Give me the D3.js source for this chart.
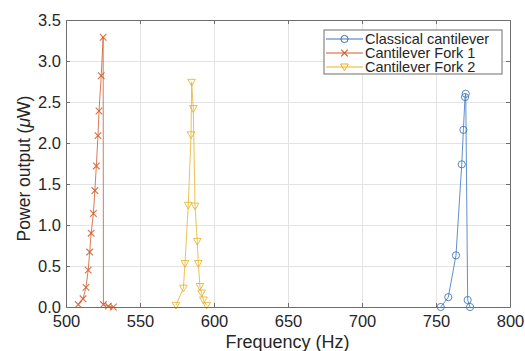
<!DOCTYPE html>
<html>
<head>
<meta charset="utf-8">
<script src="https://cdn.jsdelivr.net/npm/d3@7"></script>
<style>
  body { margin: 0; background: #fff; }
  svg { font-family: "Liberation Sans", Arial, sans-serif; }
  .grid line { stroke: #e3e3e3; }
  .grid path { display: none; }
  .tick text { fill: #262626; }
</style>
</head>
<body>
<svg class="plot"></svg>
<script>
// frequency (Hz) / power output (uW)
const classicalFreq  = [753.2, 758.3, 763.5, 767.4, 768.5, 769.6, 770.1, 771.4, 773.0]
const classicalPower = [0.00, 0.12, 0.63, 1.74, 2.16, 2.56, 2.60, 0.085, 0.00]

const fork1Freq  = [508.3, 511.5, 513.5, 515.0, 516.0, 517.0, 518.5, 519.5, 520.5, 521.6, 522.3, 523.8, 525.1, 525.3, 528.6, 532.0]
const fork1Power = [0.03, 0.10, 0.24, 0.45, 0.67, 0.90, 1.14, 1.42, 1.72, 2.09, 2.39, 2.82, 3.29, 0.03, 0.01, 0.00]

const fork2Freq  = [574.3, 579.3, 580.4, 582.6, 584.5, 584.9, 586.0, 587.2, 588.7, 589.4, 590.5, 591.6, 592.8, 595.0]
const fork2Power = [0.02, 0.23, 0.53, 1.24, 2.10, 2.74, 2.42, 1.23, 0.80, 0.53, 0.25, 0.17, 0.085, 0.02]

const seriesNames = ['Classical cantilever', 'Cantilever Fork 1', 'Cantilever Fork 2']
const xTicks = [500, 550, 600, 650, 700, 750, 800]
const yTicks = [0, 0.5, 1, 1.5, 2, 2.5, 3, 3.5]

const dimen = { width: 444, height: 287 }
const margin = { left: 66, top: 20 }

const xScale = d3.scaleLinear().domain([500, 800]).range([0, dimen.width])
const yScale = d3.scaleLinear().domain([0, 3.5]).range([dimen.height, 0])

const svg = d3.select('.plot')
    .attr('width', 525)
    .attr('height', 351)

const canvas = svg.append('g')
    .attr('transform', `translate(${margin.left}, ${margin.top})`)

// grid
const grid = canvas.append('g').attr('class', 'grid')
grid.append('g')
    .attr('transform', `translate(0, ${dimen.height})`)
    .call(d3.axisBottom(xScale).tickValues(xTicks).tickSize(-dimen.height).tickFormat(''))
grid.append('g')
    .call(d3.axisLeft(yScale).tickValues(yTicks).tickSize(-dimen.width).tickFormat(''))

// data
const series = [
  { name: seriesNames[0], color: '#3a74bb', marker: 'circle',
    data: classicalFreq.map((f, i) => ({ x: f, y: classicalPower[i] })) },
  { name: seriesNames[1], color: '#cf5a2a', marker: 'cross',
    data: fork1Freq.map((f, i) => ({ x: f, y: fork1Power[i] })) },
  { name: seriesNames[2], color: '#e8b32a', marker: 'triangle',
    data: fork2Freq.map((f, i) => ({ x: f, y: fork2Power[i] })) },
]

const line = d3.line().x(d => xScale(d.x)).y(d => yScale(d.y))

function drawMarker(g, type, color) {
  if (type === 'circle') {
    g.append('circle').attr('r', 3.6).attr('fill', 'none')
      .attr('stroke', color).attr('stroke-width', 1)
  } else if (type === 'cross') {
    g.append('path').attr('d', 'M-3.3,-3.3L3.3,3.3M-3.3,3.3L3.3,-3.3')
      .attr('stroke', color).attr('stroke-width', 1.1)
  } else {
    g.append('path').attr('d', 'M-3.8,-3L3.8,-3L0,3.8Z').attr('fill', 'none')
      .attr('stroke', color).attr('stroke-width', 1)
  }
}

const fn = canvas.append('g').attr('class', 'fn')
series.forEach(s => {
  fn.append('path')
      .attr('d', line(s.data))
      .attr('fill', 'none')
      .attr('stroke', s.color)
      .attr('stroke-opacity', 0.8)
      .attr('stroke-width', 1)
  fn.selectAll(null)
      .data(s.data)
    .enter().append('g')
      .attr('transform', d => `translate(${xScale(d.x)}, ${yScale(d.y)})`)
      .attr('opacity', 0.85)
      .each(function() { drawMarker(d3.select(this), s.marker, s.color) })
})

// axes (box with inward ticks)
const axisColor = '#6e6e6e'
const ax = canvas.append('g').attr('class', 'axes')
ax.append('g')
    .attr('transform', `translate(0, ${dimen.height})`)
    .call(d3.axisBottom(xScale).tickValues(xTicks).tickSizeInner(-4).tickSizeOuter(0).tickPadding(8))
ax.append('g')
    .call(d3.axisLeft(yScale).tickValues(yTicks).tickSizeInner(-4).tickSizeOuter(0).tickPadding(5))
ax.append('g')
    .call(d3.axisTop(xScale).tickValues(xTicks).tickSizeInner(-4).tickSizeOuter(0).tickFormat(''))
ax.append('g')
    .attr('transform', `translate(${dimen.width}, 0)`)
    .call(d3.axisRight(yScale).tickValues(yTicks).tickSizeInner(-4).tickSizeOuter(0).tickFormat(''))
ax.selectAll('path, line').attr('stroke', axisColor)
ax.selectAll('.tick text').attr('font-size', 16.5)

// labels
svg.append('text')
    .attr('x', margin.left + dimen.width / 2 - 0.5)
    .attr('y', 348)
    .attr('text-anchor', 'middle')
    .attr('font-size', 18)
    .attr('fill', '#262626')
    .text('Frequency (Hz)')

const yl = svg.append('text')
    .attr('transform', `translate(30, ${margin.top + dimen.height / 2 + 5}) rotate(-90)`)
    .attr('text-anchor', 'middle')
    .attr('font-size', 17.5)
    .attr('fill', '#262626')
yl.append('tspan').text('Power output (')
yl.append('tspan').attr('font-style', 'italic').text('\u03bc')
yl.append('tspan').text('W)')

// legend
const legend = svg.append('g').attr('transform', 'translate(324, 30)')
legend.append('rect')
    .attr('width', 178).attr('height', 44)
    .attr('fill', '#fff').attr('stroke', '#6e6e6e').attr('stroke-width', 1)
series.forEach((s, i) => {
  const row = legend.append('g').attr('transform', `translate(0, ${9 + i * 14})`)
  row.append('line').attr('x1', 2).attr('x2', 39).attr('stroke', s.color).attr('stroke-width', 1)
  const m = row.append('g').attr('transform', 'translate(20.5, 0)')
  drawMarker(m, s.marker, s.color)
  row.append('text')
      .attr('x', 41).attr('dy', '0.36em')
      .attr('font-size', 14.5)
      .attr('fill', '#262626')
      .text(s.name)
})
</script>
</body>
</html>
